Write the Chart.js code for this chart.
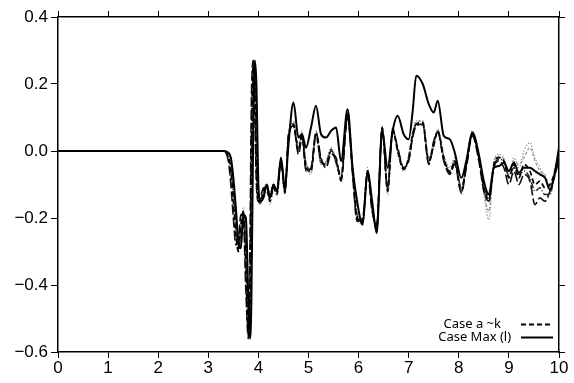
<!DOCTYPE html>
<html>
<head>
<meta charset="utf-8">
<script src="https://cdn.jsdelivr.net/npm/chart.js@4"></script>
<style>
    body { margin: 0; background: #fff; }
    #wrap { width: 574px; height: 383px; }
</style>
</head>
<body>
<div id="wrap"><canvas id="caseChart"></canvas></div>
<script>
// ===============================
// DATA (time axis + response per case)
// ===============================

const xs = [
    0, 3.3, 3.4, 3.45, 3.5, 3.55, 3.6, 3.65, 3.7, 3.75,
    3.8, 3.83, 3.86, 3.9, 3.93, 3.96, 4.0, 4.04, 4.1, 4.17,
    4.23, 4.3, 4.37, 4.45, 4.53, 4.6, 4.7, 4.8, 4.87, 4.95,
    5.05, 5.15, 5.25, 5.35, 5.45, 5.55, 5.65, 5.78, 5.88, 5.97,
    6.08, 6.18, 6.27, 6.36, 6.47, 6.58, 6.68, 6.78, 6.9, 7.0,
    7.08, 7.15, 7.28, 7.4, 7.5, 7.58, 7.7, 7.82, 7.92, 8.05,
    8.15, 8.27, 8.4, 8.5, 8.6, 8.7, 8.8, 8.9, 9.0, 9.1,
    9.2, 9.3, 9.42, 9.52, 9.62, 9.72, 9.82, 9.9, 10.0
];

// Case Max (l) - solid
const caseMax = [
    0, 0, -0.005, -0.02, -0.08, -0.17, -0.27, -0.29, -0.19, -0.2,
    -0.45, -0.56, -0.45, 0.1, 0.27, 0.2, -0.1, -0.15, -0.14, -0.1,
    -0.14, -0.1, -0.12, -0.02, -0.11, 0.02, 0.145, 0.04, 0.05, 0.01,
    0.07, 0.135, 0.05, 0.04, 0.06, 0.07, -0.03, 0.125, -0.05, -0.15,
    -0.22, -0.06, -0.15, -0.245, 0.06, -0.05, 0.06, 0.105, 0.05, 0.035,
    0.12, 0.225, 0.2, 0.14, 0.115, 0.15, 0.045, 0.035, -0.005, -0.08,
    -0.03, 0.055, -0.01, -0.09, -0.13, -0.05, -0.045, -0.035, -0.06, -0.035,
    -0.065, -0.05, -0.05, -0.06, -0.07, -0.08, -0.115, -0.08, 0.01
];

// Cases a ~ k (dashed group)
const caseA = [
    0, 0, -0.02, -0.06, -0.15, -0.25, -0.3, -0.22, -0.18, -0.35,
    -0.55, -0.45, 0.0, 0.27, 0.2, -0.05, -0.15, -0.155, -0.12, -0.11,
    -0.15, -0.11, -0.13, -0.03, -0.125, 0.04, 0.08, 0.0, 0.05, -0.05,
    -0.06, 0.05, -0.03, -0.04, 0.0, -0.03, -0.08, 0.11, -0.06, -0.2,
    -0.21, -0.06, -0.17, -0.23, 0.07, -0.12, 0.065, 0.0, -0.055, -0.02,
    0.05, 0.08, 0.085, -0.03, 0.02, 0.06, -0.02, -0.065, -0.03, -0.12,
    -0.04, 0.05, -0.02, -0.11, -0.145, -0.04, -0.02, -0.03, -0.08, -0.04,
    -0.08, -0.04, -0.06, -0.1, -0.09, -0.11, -0.1, -0.07, -0.01
];

const caseB = [
    0, 0, -0.03, -0.1, -0.2, -0.28, -0.27, -0.19, -0.2, -0.42,
    -0.56, -0.3, 0.15, 0.27, 0.1, -0.1, -0.15, -0.14, -0.11, -0.12,
    -0.14, -0.1, -0.12, -0.04, -0.12, 0.05, 0.075, -0.01, 0.04, -0.06,
    -0.05, 0.055, -0.02, -0.05, -0.01, -0.02, -0.09, 0.1, -0.07, -0.21,
    -0.2, -0.07, -0.18, -0.22, 0.065, -0.11, 0.06, 0.01, -0.05, -0.03,
    0.04, 0.075, 0.08, -0.04, 0.03, 0.055, -0.03, -0.07, -0.04, -0.125,
    -0.05, 0.045, -0.03, -0.12, -0.15, -0.05, -0.03, -0.05, -0.1, -0.06,
    -0.1, -0.07, -0.09, -0.16, -0.14, -0.15, -0.12, -0.08, -0.03
];

const caseC = [
    0, 0, -0.01, -0.04, -0.12, -0.22, -0.29, -0.25, -0.17, -0.3,
    -0.5, -0.54, -0.2, 0.2, 0.27, 0.05, -0.13, -0.16, -0.13, -0.1,
    -0.16, -0.12, -0.13, -0.02, -0.13, 0.03, 0.085, 0.01, 0.06, -0.04,
    -0.07, 0.045, -0.04, -0.03, 0.01, -0.04, -0.07, 0.12, -0.05, -0.19,
    -0.22, -0.05, -0.16, -0.24, 0.075, -0.13, 0.07, -0.01, -0.06, -0.01,
    0.06, 0.09, 0.09, -0.02, 0.01, 0.065, -0.01, -0.05, -0.02, -0.13,
    -0.03, 0.06, -0.01, -0.13, -0.205, -0.03, -0.01, -0.02, -0.07, -0.02,
    -0.05, 0.0, 0.025, -0.02, -0.05, -0.08, -0.12, -0.06, 0.0
];

const caseD = [
    0, 0, -0.015, -0.05, -0.13, -0.23, -0.3, -0.24, -0.18, -0.32,
    -0.53, -0.5, -0.05, 0.25, 0.24, -0.02, -0.14, -0.15, -0.12, -0.1,
    -0.14, -0.11, -0.12, -0.03, -0.115, 0.035, 0.075, 0.005, 0.045, -0.04,
    -0.055, 0.05, -0.035, -0.035, 0.005, -0.035, -0.075, 0.105, -0.055, -0.19,
    -0.21, -0.06, -0.16, -0.23, 0.065, -0.11, 0.06, 0.005, -0.05, -0.025,
    0.045, 0.08, 0.08, -0.035, 0.015, 0.06, -0.025, -0.06, -0.035, -0.11,
    -0.045, 0.05, -0.015, -0.1, -0.14, -0.045, -0.025, -0.03, -0.075, -0.05,
    -0.07, -0.06, -0.08, -0.12, -0.11, -0.13, -0.13, -0.08, -0.02
];

const caseE = [
    0, 0, -0.01, -0.03, -0.1, -0.2, -0.28, -0.26, -0.19, -0.27,
    -0.48, -0.55, -0.35, 0.12, 0.26, 0.12, -0.12, -0.15, -0.13, -0.11,
    -0.13, -0.1, -0.125, -0.025, -0.12, 0.045, 0.09, 0.02, 0.055, -0.03,
    -0.065, 0.06, -0.025, -0.045, 0.005, -0.025, -0.085, 0.115, -0.065, -0.2,
    -0.21, -0.07, -0.17, -0.235, 0.07, -0.12, 0.07, 0.0, -0.05, -0.015,
    0.055, 0.085, 0.09, -0.025, 0.025, 0.06, -0.015, -0.06, -0.025, -0.12,
    -0.035, 0.055, -0.02, -0.12, -0.18, -0.035, -0.015, -0.025, -0.06, -0.03,
    -0.04, -0.02, 0.01, -0.03, -0.06, -0.07, -0.11, -0.07, -0.01
];

const xTicks = [0, 10, 1];        // min, max, step
const yTicks = [-0.6, 0.4, 0.2];  // min, max, step

const legendOrder = ['Case a ~k', 'Case Max (l)'];
const legendPad = { 'Case a ~k': '    ', 'Case Max (l)': ' ' };

// ===============================
// HELPERS
// ===============================

const toPoints = ys => xs.map((x, i) => ({ x: x, y: ys[i] }));

function dashedSet(label, ys, color, width, dash) {
    return {
        label: label,
        data: toPoints(ys),
        borderColor: color,
        backgroundColor: color,
        borderWidth: width,
        borderDash: dash,
        pointRadius: 0,
        pointStyle: 'line',
        cubicInterpolationMode: 'monotone'
    };
}

const tickFont = { family: 'Liberation Sans, Arial, sans-serif', size: 17 };

function frameAxis(pos, range, size, showLabels) {
    return {
        type: 'linear',
        position: pos,
        min: range[0],
        max: range[1],
        border: { display: true, color: '#000', width: 1.5 },
        grid: {
            drawOnChartArea: false,
            drawTicks: true,
            tickLength: 6,
            tickWidth: 1,
            tickColor: '#000'
        },
        ticks: {
            display: showLabels,
            stepSize: range[2],
            color: '#000',
            font: tickFont,
            padding: 3,
            maxRotation: 0,
            autoSkip: false
        },
        afterFit: scale => {
            if (pos === 'left' || pos === 'right') {
                scale.width = size;
            } else {
                scale.height = size;
            }
        }
    };
}

const fmtY = v => {
    if (Math.abs(v) < 1e-9) v = 0;
    return (v < 0 ? '\u2212' : '') + Math.abs(v).toFixed(1);
};

// legend sits inside plot, bottom right
const legendInArea = {
    id: 'legendInArea',
    afterLayout(chart) {
        const lg = chart.legend;
        if (!lg) return;
        const area = chart.chartArea;
        const w = lg.width;
        lg.left = area.right - 6 - w;
        lg.right = lg.left + w;
        lg.top = 318;
        lg.bottom = lg.top + 40;
        lg.height = 40;
    }
};

// ===============================
// CHART
// ===============================

const xMain = frameAxis('bottom', xTicks, 31, true);
xMain.ticks.padding = 0;

const yMain = frameAxis('left', yTicks, 58, true);
yMain.grid.tickLength = 7;
yMain.ticks.callback = fmtY;

const ctx = document.getElementById('caseChart');

new Chart(ctx, {
    type: 'line',
    data: {
        datasets: [
            dashedSet('Case a ~k', caseA, '#000', 1.7, [5, 3]),
            dashedSet('Case b', caseB, '#111', 1.6, [10, 3]),
            dashedSet('Case c', caseC, '#777', 1.3, [1, 2]),
            dashedSet('Case d', caseD, '#222', 1.5, [6, 2, 1, 2]),
            dashedSet('Case e', caseE, '#999', 1.3, [3, 2]),
            {
                label: 'Case Max (l)',
                data: toPoints(caseMax),
                borderColor: '#000',
                backgroundColor: '#000',
                borderWidth: 2,
                pointRadius: 0,
                pointStyle: 'line',
                cubicInterpolationMode: 'monotone',
                order: -1
            }
        ]
    },
    options: {
        responsive: true,
        maintainAspectRatio: false,
        animation: false,
        layout: { padding: 0 },

        plugins: {
            tooltip: { enabled: false },
            legend: {
                position: 'chartArea',
                align: 'start',
                rtl: true,
                textDirection: 'ltr',
                labels: {
                    usePointStyle: true,
                    pointStyleWidth: 32,
                    boxHeight: 13,
                    padding: 0,
                    color: '#000',
                    font: { family: 'Noto Sans', size: 13 },
                    generateLabels(chart) {
                        const items = Chart.defaults.plugins.legend.labels.generateLabels(chart);
                        return legendOrder.map(name => {
                            const item = items.find(it => it.text === name);
                            item.text = name + legendPad[name];
                            item.lineWidth = 2;
                            item.strokeStyle = '#000';
                            item.lineDash = name === 'Case a ~k' ? [5, 3] : [];
                            item.lineCap = 'butt';
                            return item;
                        });
                    }
                }
            }
        },

        scales: {
            x: xMain,
            y: yMain,
            x2: frameAxis('top', xTicks, 17, false),
            y2: frameAxis('right', yTicks, 15, false)
        }
    },
    plugins: [legendInArea]
});
</script>
</body>
</html>
